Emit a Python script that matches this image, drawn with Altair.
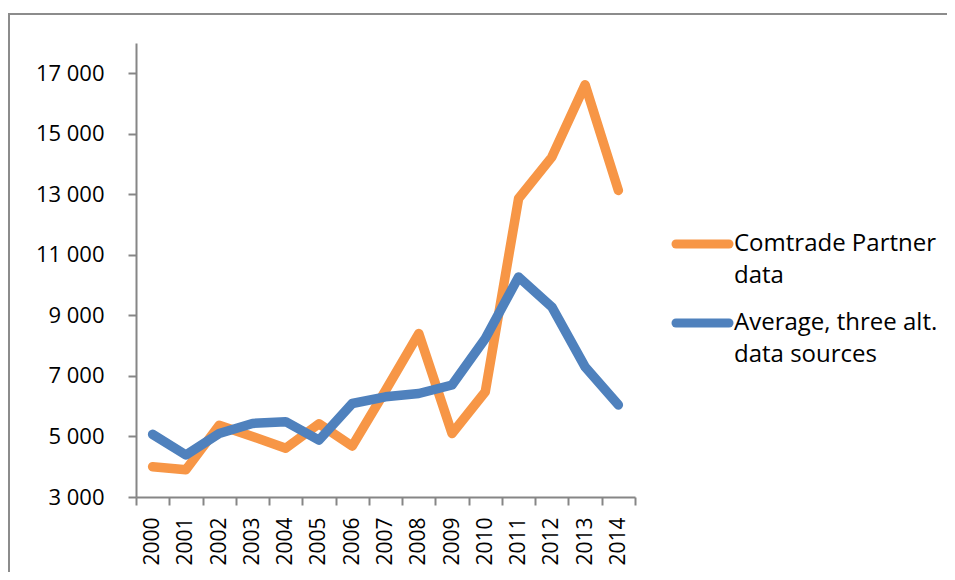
import altair as alt
import pandas as pd

years = [str(y) for y in range(2000, 2015)]
comtrade = [4000, 3900, 5370, 5000, 4610, 5420, 4680, 6520, 8400, 5100, 6480, 12860, 14230, 16620, 13130]
average = [5070, 4390, 5100, 5430, 5490, 4880, 6090, 6310, 6420, 6700, 8240, 10270, 9280, 7300, 6040]
series_names = ["Comtrade Partner data", "Average, three alt. data sources"]
legend_labels = ["Comtrade Partner\ndata", "Average, three alt.\ndata sources"]
colors = ["#F79646", "#4F81BD"]
y_ticks = [3000, 5000, 7000, 9000, 11000, 13000, 15000, 17000]

rows = []
for i, yr in enumerate(years):
    rows.append({"year": yr, "value": comtrade[i], "series": series_names[0]})
    rows.append({"year": yr, "value": average[i], "series": series_names[1]})
df = pd.DataFrame(rows)
leg_df = pd.DataFrame({"series": series_names, "label": legend_labels})

FONT = "Open Sans"
W, H = 499, 454
color_scale = alt.Scale(domain=series_names, range=colors)

lines = alt.Chart(df).mark_line(strokeWidth=9.5, strokeCap="round", strokeJoin="round").encode(
    x=alt.X("year:O", bandPosition=0.5,
            scale=alt.Scale(type="band", paddingInner=0, paddingOuter=0),
            axis=alt.Axis(title=None, labelAngle=270, labelAlign="right", labelBaseline="middle",
                          tickBand="extent", tickSize=8, labelPadding=12, labelFontSize=21,
                          domainColor="#868686", tickColor="#868686", domainWidth=2, tickWidth=2,
                          labelColor="#000000", labelFont=FONT, grid=False)),
    y=alt.Y("value:Q", scale=alt.Scale(domain=[3000, 18000], nice=False, zero=False),
            axis=alt.Axis(title=None, values=y_ticks, tickSize=8, labelPadding=24, labelFontSize=22,
                          labelExpr="replace(format(datum.value, ','), ',', ' ')",
                          domainColor="#868686", tickColor="#868686", domainWidth=2, tickWidth=2,
                          labelColor="#000000", labelFont=FONT, grid=False)),
    color=alt.Color("series:N", scale=color_scale, legend=None),
)

leg_y = alt.Y("series:N", scale=alt.Scale(type="point", domain=series_names, range=[201, 280], padding=0),
              axis=None)

leg_sym = alt.Chart(leg_df).mark_rule(strokeWidth=9, strokeCap="round").encode(
    x=alt.value(540), x2=alt.value(593), y=leg_y,
    color=alt.Color("series:N", scale=color_scale, legend=None),
)

leg_txt = alt.Chart(leg_df).mark_text(align="left", baseline="middle", lineBreak="\n", lineHeight=32,
                                      font=FONT, fontSize=24, color="#000000").encode(
    x=alt.value(598), y=leg_y, text="label:N",
)

border = alt.Chart(pd.DataFrame({"a": [0]})).mark_rect(fill="transparent", stroke="#8c8c8c", strokeWidth=2).encode(
    x=alt.value(-127), x2=alt.value(830), y=alt.value(-29), y2=alt.value(560)
)

chart = alt.layer(border, lines, leg_sym, leg_txt).resolve_scale(y="independent").properties(
    width=W, height=H,
    autosize=alt.AutoSizeParams(type="none"),
    padding={"left": 128, "top": 35, "right": 312, "bottom": 75},
).configure_view(stroke="transparent")

chart.save("out.html", embed_options={"renderer": "svg", "actions": False})
